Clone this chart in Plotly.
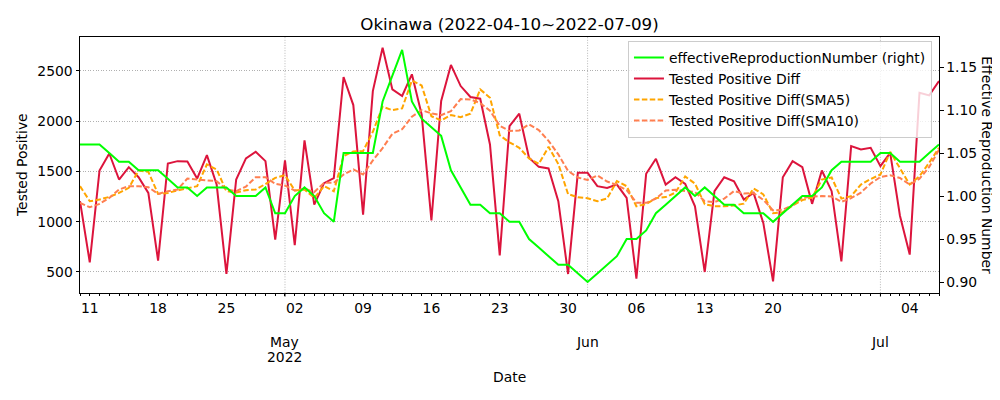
import pandas as pd
import plotly.graph_objects as go

# ---------------- data ----------------
dates = pd.date_range("2022-04-10", "2022-07-07", freq="D")

tested_positive_diff = [
    1204, 596, 1510, 1679, 1420, 1543, 1443, 1287, 613, 1580,
    1603, 1600, 1430, 1663, 1370, 480, 1420, 1630, 1696, 1603,
    822, 1610, 766, 1809, 1171, 1384, 1434, 2440, 2161, 1071,
    2300, 2732, 2317, 2251, 2467, 2068, 1012, 2201, 2560, 2350,
    2241, 2224, 1769, 666, 1952, 2075, 1636, 1546, 1530, 1204,
    480, 1487, 1487, 1354, 1337, 1370, 1237, 434, 1477, 1626,
    1370, 1443, 1377, 1154, 500, 1304, 1443, 1403, 1221, 1287,
    988, 407, 1443, 1603, 1543, 1178, 1510, 1304, 606, 1752,
    1719, 1736, 1553, 1686, 1060, 673, 2284, 2257, 2400,
]

tested_positive_sma5 = [
    1354, 1204, 1221, 1247, 1287, 1337, 1510, 1497, 1277, 1287,
    1311, 1331, 1354, 1570, 1520, 1304, 1290, 1314, 1320, 1375,
    1437, 1463, 1311, 1320, 1237, 1354, 1304, 1653, 1700, 1703,
    1895, 2145, 2110, 2128, 2405, 2355, 2050, 2008, 2061, 2041,
    2075, 2317, 2234, 1860, 1790, 1736, 1630, 1576, 1745, 1575,
    1275, 1244, 1234, 1204, 1231, 1404, 1354, 1154, 1175, 1235,
    1245, 1290, 1450, 1380, 1175, 1154, 1154, 1162, 1180, 1331,
    1272, 1085, 1095, 1160, 1215, 1240, 1420, 1440, 1230, 1255,
    1370, 1425, 1470, 1695, 1530, 1370, 1453, 1588, 1736,
]

tested_positive_sma10 = [
    1188, 1144, 1178, 1237, 1321, 1354, 1354, 1344, 1277, 1304,
    1321, 1430, 1420, 1414, 1404, 1320, 1304, 1350, 1443, 1443,
    1377, 1360, 1311, 1330, 1295, 1387, 1387, 1470, 1520, 1470,
    1610, 1732, 1875, 1920, 2045, 2110, 2078, 2061, 2101, 2220,
    2217, 2180, 2105, 1955, 1902, 1908, 1968, 1912, 1805, 1670,
    1505, 1440, 1415, 1460, 1400, 1365, 1315, 1190, 1188, 1231,
    1310, 1318, 1308, 1295, 1205, 1196, 1230, 1305, 1280, 1285,
    1218, 1113, 1119, 1166, 1240, 1250, 1256, 1252, 1198, 1235,
    1290, 1380, 1445, 1462, 1435, 1370, 1428, 1545, 1716,
]

effective_reproduction_number = [
    1.06, 1.06, 1.06, 1.05, 1.04, 1.04, 1.03, 1.03, 1.03, 1.02,
    1.01, 1.01, 1.00, 1.01, 1.01, 1.01, 1.00, 1.00, 1.00, 1.01,
    0.98, 0.98, 1.00, 1.01, 1.00, 0.98, 0.97, 1.05, 1.05, 1.05,
    1.05, 1.11, 1.14, 1.17, 1.11, 1.09, 1.08, 1.07, 1.03, 1.01,
    0.99, 0.99, 0.98, 0.98, 0.97, 0.97, 0.95, 0.94, 0.93, 0.92,
    0.92, 0.91, 0.90, 0.91, 0.92, 0.93, 0.95, 0.95, 0.96, 0.98,
    0.99, 1.00, 1.01, 1.00, 1.01, 1.00, 0.99, 0.99, 0.98, 0.98,
    0.98, 0.97, 0.98, 0.99, 1.00, 1.00, 1.01, 1.03, 1.04, 1.04,
    1.04, 1.04, 1.05, 1.05, 1.04, 1.04, 1.04, 1.05, 1.06,
]

day_tick_dates = ["2022-04-11", "2022-04-18", "2022-04-25", "2022-05-02",
                  "2022-05-09", "2022-05-16", "2022-05-23", "2022-05-30",
                  "2022-06-06", "2022-06-13", "2022-06-20", "2022-07-04"]
day_tick_labels = ["11", "18", "25", "02", "09", "16", "23", "30",
                   "06", "13", "20", "04"]
month_dates = ["2022-05-01", "2022-06-01", "2022-07-01"]
month_labels = ["May", "Jun", "Jul"]
year_label = "2022"

left_ticks = [500, 1000, 1500, 2000, 2500]
right_ticks = [0.90, 0.95, 1.00, 1.05, 1.10, 1.15]

# ---------------- figure ----------------
# The page body has an 8px default margin, so the figure is sized and
# laid out to land on the 1000x400 window accordingly.
W, H = 992, 392
FONT = "DejaVu Sans"
GRID_DASH = "1px,1.6px"
fig = go.Figure()

dash = "5.5px,2.4px"
fig.add_trace(go.Scatter(x=dates, y=tested_positive_diff, mode="lines",
                         name="Tested Positive Diff", legendrank=2,
                         line=dict(color="crimson", width=2)))
fig.add_trace(go.Scatter(x=dates, y=tested_positive_sma5, mode="lines",
                         name="Tested Positive Diff(SMA5)", legendrank=3,
                         line=dict(color="orange", width=2, dash=dash)))
fig.add_trace(go.Scatter(x=dates, y=tested_positive_sma10, mode="lines",
                         name="Tested Positive Diff(SMA10)", legendrank=4,
                         line=dict(color="coral", width=2, dash=dash)))
fig.add_trace(go.Scatter(x=dates, y=effective_reproduction_number, mode="lines",
                         name="effectiveReproductionNumber (right)", legendrank=1,
                         line=dict(color="lime", width=2), yaxis="y2"))

shapes = []
for d in month_dates:
    shapes.append(dict(type="line", xref="x", yref="paper", x0=d, x1=d, y0=0, y1=1,
                       line=dict(color="#b0b0b0", width=0.9, dash=GRID_DASH), layer="below"))
    shapes.append(dict(type="line", xref="x", yref="paper", ysizemode="pixel",
                       yanchor=0, x0=d, x1=d, y0=0, y1=-3.5,
                       line=dict(color="black", width=1)))

annotations = []
for d, lab in zip(month_dates, month_labels):
    annotations.append(dict(x=d, y=0, xref="x", yref="paper", text=lab,
                            showarrow=False, yanchor="middle", yshift=-49,
                            font=dict(family=FONT, size=13.9, color="black")))
annotations.append(dict(x=month_dates[0], y=0, xref="x", yref="paper", text=year_label,
                        showarrow=False, yanchor="middle", yshift=-64,
                        font=dict(family=FONT, size=13.9, color="black")))
annotations.append(dict(x=0.5, y=0, xref="paper", yref="paper", text="Date",
                        showarrow=False, yanchor="middle", yshift=-84,
                        font=dict(family=FONT, size=13.9, color="black")))
annotations.append(dict(x=-0.0675, y=0.5, xref="paper", yref="paper",
                        text="Tested Positive", textangle=-90, showarrow=False,
                        xanchor="center", yanchor="middle",
                        font=dict(family=FONT, size=13.9, color="black")))
annotations.append(dict(x=1.0555, y=0.5, xref="paper", yref="paper",
                        text="Effective Reproduction Number", textangle=90,
                        showarrow=False, xanchor="center", yanchor="middle",
                        font=dict(family=FONT, size=13.9, color="black")))

fig.update_layout(
    width=W, height=H,
    margin=dict(l=72, r=61, t=29, b=107, autoexpand=False),
    paper_bgcolor="white", plot_bgcolor="white",
    font=dict(family=FONT, size=13.9, color="black"),
    title=dict(text="Okinawa (2022-04-10~2022-07-09)", x=0.5, xref="paper",
               y=1 - 16 / H, yanchor="middle",
               font=dict(family=FONT, size=16.7, color="black")),
    showlegend=True,
    legend=dict(x=0.9918, y=0.985, xanchor="right", yanchor="top",
                bgcolor="rgba(255,255,255,0.8)", bordercolor="#cccccc", borderwidth=1,
                font=dict(family=FONT, size=13.9, color="black"),
                tracegroupgap=0, itemwidth=30),
    xaxis=dict(type="date", range=[dates[0], dates[-1]],
               tickmode="array", tickvals=day_tick_dates, ticktext=day_tick_labels,
               ticks="outside", ticklen=2, tickwidth=1, tickcolor="black",
               showgrid=False, zeroline=False, automargin=False,
               showline=True, linecolor="black", linewidth=1, mirror=True,
               tickfont=dict(family=FONT, size=13.9, color="black"),
               minor=dict(tickmode="array", tickvals=list(dates), ticks="outside",
                          ticklen=2, tickwidth=1, tickcolor="black", showgrid=False)),
    yaxis=dict(range=[291, 2838], tickmode="array", tickvals=left_ticks,
               ticks="outside", ticklen=3.5, tickwidth=1, tickcolor="black",
               showgrid=True, gridcolor="#b0b0b0", gridwidth=0.9, griddash=GRID_DASH,
               zeroline=False, showline=True, linecolor="black", linewidth=1,
               mirror=True, automargin=False,
               tickfont=dict(family=FONT, size=13.9, color="black")),
    yaxis2=dict(range=[0.8872, 1.185], overlaying="y", side="right",
                tickmode="array", tickvals=right_ticks, tickformat=".2f",
                ticks="outside", ticklen=3.5, tickwidth=1, tickcolor="black",
                showgrid=False, zeroline=False, showline=True, linecolor="black",
                linewidth=1, automargin=False,
                tickfont=dict(family=FONT, size=13.9, color="black")),
    shapes=shapes,
    annotations=annotations,
)

fig.write_html("out.html")
